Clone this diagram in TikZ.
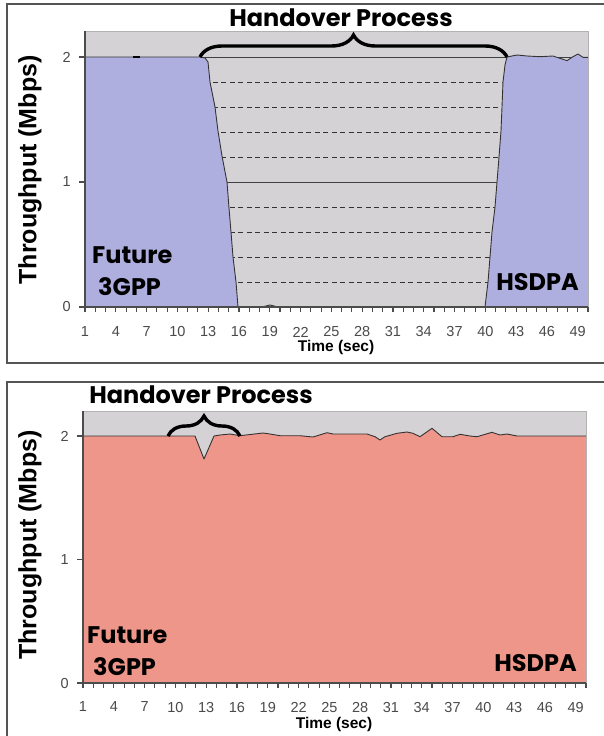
\documentclass[tikz,border=0pt]{standalone}
\usepackage{fontspec}
\setmainfont{Liberation Sans}
\newfontfamily\gothic{Poppins}
\usetikzlibrary{decorations.pathreplacing}
\definecolor{plotgray}{HTML}{D5D2D5}
\definecolor{areablue}{HTML}{AFAFDF}
\definecolor{areared}{HTML}{EF968A}
\definecolor{ticktext}{HTML}{4A4A4A}
\definecolor{framec}{HTML}{555555}
\tikzset{
 frame/.style={draw=framec, line width=1.2},
 plotbg/.style={fill=plotgray, draw=black!30, line width=0.8},
 solidgrid/.style={draw=black!75, line width=0.9},
 dashgrid/.style={draw=black!80, line width=0.8, dash pattern=on 5pt off 3.5pt},
 series/.style={draw=black!80, line width=0.9, line join=round},
 axisline/.style={draw=black!70, line width=1.1},
 ticklab/.style={font=\fontsize{14.5}{15}\selectfont, text=ticktext, inner sep=0},
 biglab/.style={font=\gothic\bfseries\fontsize{24}{24}\selectfont, inner sep=0},
 axtitle/.style={font=\bfseries\fontsize{15.5}{16}\selectfont, inner sep=0},
 ytitle/.style={font=\bfseries\fontsize{25}{25}\selectfont, inner sep=0, rotate=90},
 bracestyle/.style={decorate, decoration={brace, amplitude=#1}, line width=3.4, draw=black},
}
\begin{document}
\begin{tikzpicture}[x=1pt,y=-1pt]
\useasboundingbox (0,0) rectangle (604,736);
\fill[white] (0,0) rectangle (604,736);
% ---------------- frames
\draw[frame] (7,4) rectangle (615,363);
\draw[frame] (7,382) rectangle (615,750);

% ================= TOP CHART =================
\fill[plotbg] (85,31) rectangle (588,307);
\foreach \v in {0.2,0.4,0.6,0.8,1.2,1.4,1.6,1.8}
  \draw[dashgrid] (85,{307-125*\v}) -- (588,{307-125*\v});
\draw[solidgrid] (85,182) -- (588,182);
\draw[solidgrid] (85,57) -- (588,57);
% blue areas
\fill[areablue] (85,307) -- (85,57) -- (200,57) -- (205,58) -- (208,62) -- (210,82) -- (215,107) -- (218,131) -- (222,156) -- (227,182) -- (229,208) -- (231,232) -- (233,257) -- (236,282) -- (238,307) -- cycle;
\fill[areablue] (485,307) -- (488,282) -- (490,257) -- (492,232) -- (495,207) -- (497,182) -- (499,157) -- (501,131) -- (502,107) -- (503,82) -- (505,65) -- (507,57) -- (517,55) -- (527,56) -- (540,56.7) -- (553,56) -- (563,59.3) -- (567,60.7) -- (573,56.7) -- (578,54) -- (583,57.3) -- (588,57.3) -- (588,307) -- cycle;
% series line
\draw[series] (85,57) -- (200,57) -- (205,58) -- (208,62) -- (210,82) -- (215,107) -- (218,131) -- (222,156) -- (227,182) -- (229,208) -- (231,232) -- (233,257) -- (236,282) -- (238,307) -- (262,307) -- (270,305) -- (278,307) -- (485,307) -- (488,282) -- (490,257) -- (492,232) -- (495,207) -- (497,182) -- (499,157) -- (501,131) -- (502,107) -- (503,82) -- (505,65) -- (507,57) -- (517,55) -- (527,56) -- (540,56.7) -- (553,56) -- (563,59.3) -- (567,60.7) -- (573,56.7) -- (578,54) -- (583,57.3) -- (588,57.3);
\draw[line width=1.6] (133,57) -- (140,57);
\draw[draw=black!30, line width=0.8] (85,31) -- (588,31) -- (588,307);
% axes
\draw[axisline] (85,31) -- (85,307) -- (588,307);
\foreach \v in {0,1,2} \draw[axisline] (79,{307-125*\v}) -- (85,{307-125*\v});
\foreach \k in {0,...,49} \draw[axisline] ({85+\k*10.265},307) -- ++(0,5);
\foreach \v in {0,1,2} \node[ticklab, anchor=east] (ya\v) at (71,{307-125*\v}) {\v};
\foreach \t in {1,4,...,49} \node[ticklab] (xa\t) at ({85+(\t-1)*10.265},332) {\t};
\node[axtitle] (xta) at (336,347) {Time (sec)};
\node[ytitle] (yta) at (30,170) {Throughput (Mbps)};
% labels
\node[biglab, anchor=base west] (fa) at (92,263) {Future};
\node[biglab, anchor=base west] (ga) at (98,295) {3GPP};
\node[biglab, anchor=base east] (ha) at (579,290) {HSDPA};
\coordinate (bla) at (200,57);
\coordinate (bra) at (507,57);
\draw[bracestyle=22] (bla) -- (bra);
\node[biglab, anchor=base] (tta) at (341,27) {Handover Process};

% ================= BOTTOM CHART =================
\fill[plotbg] (83,411) rectangle (586,683);
\fill[areared] (83,683) -- (83,436) -- (195,436) -- (204,459) -- (214,436) -- (220,435) -- (230,434) -- (240,435.7) -- (263,433) -- (270,434) -- (280,435.7) -- (300,435.7) -- (313,437) -- (327,432.7) -- (333,434) -- (343,434) -- (367,434) -- (375,436.7) -- (380,440) -- (385,436.7) -- (397,433.3) -- (407,432) -- (413,433.3) -- (420,436.7) -- (432,428.3) -- (442,436.7) -- (453,436.7) -- (460,434.3) -- (470,436) -- (477,436.7) -- (492,432.3) -- (500,435) -- (507,434) -- (517,436) -- (586,436) -- (586,683) -- cycle;
\draw[series] (83,436) -- (195,436) -- (204,459) -- (214,436) -- (220,435) -- (230,434) -- (240,435.7) -- (263,433) -- (270,434) -- (280,435.7) -- (300,435.7) -- (313,437) -- (327,432.7) -- (333,434) -- (343,434) -- (367,434) -- (375,436.7) -- (380,440) -- (385,436.7) -- (397,433.3) -- (407,432) -- (413,433.3) -- (420,436.7) -- (432,428.3) -- (442,436.7) -- (453,436.7) -- (460,434.3) -- (470,436) -- (477,436.7) -- (492,432.3) -- (500,435) -- (507,434) -- (517,436) -- (586,436);
\draw[draw=black!30, line width=0.8] (83,411) -- (586,411) -- (586,683);
\draw[axisline] (83,411) -- (83,683) -- (586,683);
\foreach \v in {0,1,2} \draw[axisline] (77,{683-123.5*\v}) -- (83,{683-123.5*\v});
\foreach \k in {0,...,49} \draw[axisline] ({83+\k*10.265},683) -- ++(0,5);
\foreach \v in {0,1,2} \node[ticklab, anchor=east] (yb\v) at (69,{683-123.5*\v}) {\v};
\foreach \t in {1,4,...,49} \node[ticklab] (xb\t) at ({83+(\t-1)*10.265},707) {\t};
\node[axtitle] (xtb) at (334,724) {Time (sec)};
\node[ytitle] (ytb) at (30,545) {Throughput (Mbps)};
\node[biglab, anchor=base west] (fb) at (87,643) {Future};
\node[biglab, anchor=base west] (gb) at (93,675) {3GPP};
\node[biglab, anchor=base east] (hb) at (577,671) {HSDPA};
\coordinate (blb) at (168,436);
\coordinate (brb) at (240,436);
\draw[bracestyle=20] (blb) -- (brb);
\node[biglab, anchor=base] (ttb) at (201,403) {Handover Process};
\end{tikzpicture}
\end{document}
